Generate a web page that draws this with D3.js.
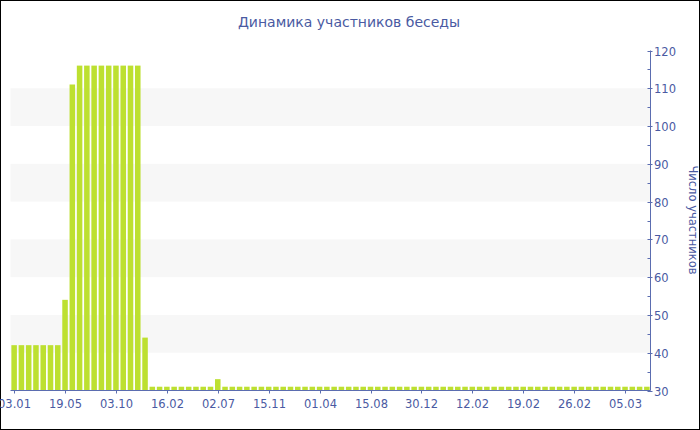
<!DOCTYPE html>
<html><head><meta charset="utf-8">
<script src="https://cdn.jsdelivr.net/npm/d3@7"></script>
<style>
html,body{margin:0;padding:0;background:#fff;}
svg{display:block;font-family:"DejaVu Sans",Verdana,sans-serif;}
</style></head>
<body>
<svg id="chart" width="700" height="430"></svg>
<script>
const title = "Динамика участников беседы";
const yTitle = "Число участников";
const categories = [
 "03.01","22.01","11.02","02.03","22.03","10.04","30.04",
 "19.05","07.06","27.06","16.07","05.08","24.08","13.09",
 "03.10","22.10","11.11","30.11","20.12","08.01","28.01",
 "16.02","07.03","27.03","15.04","05.05","24.05","13.06",
 "02.07","21.07","10.08","29.08","18.09","07.10","27.10",
 "15.11","04.12","24.12","12.01","01.02","20.02","11.03",
 "01.04","20.04","10.05","29.05","18.06","07.07","27.07",
 "15.08","03.09","23.09","12.10","01.11","20.11","10.12",
 "30.12","06.01","13.01","19.01","25.01","31.01","06.02",
 "12.02","13.02","14.02","15.02","16.02","17.02","18.02",
 "19.02","20.02","21.02","22.02","23.02","24.02","25.02",
 "26.02","27.02","28.02","01.03","02.03","03.03","04.03",
 "05.03","06.03","07.03","08.03"
];
const values = [
 42,42,42,42,42,42,42,
 54,111,116,116,116,116,116,
 116,116,116,116,44,31,31,
 31,31,31,31,31,31,31,
 33,31,31,31,31,31,31,
 31,31,31,31,31,31,31,
 31,31,31,31,31,31,31,
 31,31,31,31,31,31,31,
 31,31,31,31,31,31,31,
 31,31,31,31,31,31,31,
 31,31,31,31,31,31,31,
 31,31,31,31,31,31,31,
 31,31,31,31
];
const tickLabels = ["03.01","19.05","03.10","16.02","02.07","15.11","01.04","15.08","30.12","12.02","19.02","26.02","05.03"];
const tickIndices = [0,7,14,21,28,35,42,49,56,63,70,77,84];
const yTicks = [30,40,50,60,70,80,90,100,110,120];
const yMinorTicks = [35,45,55,65,75,85,95,105,115];
const bandRanges = [[40,50],[60,70],[80,90],[100,110]];

const textColor = "#4a5aa2", axisColor = "#5b6db0", barColor = "#bde030", bandColor = "#f7f7f7";

const svg = d3.select("#chart");
const pLeft = 10.5, pRight = 650.5, pTop = 50.5, pBottom = 390.5;

const x = d3.scaleBand().domain(d3.range(categories.length)).range([pLeft, pRight]).paddingInner(0.24).paddingOuter(0.12);
const y = d3.scaleLinear().domain([30,120]).range([pBottom, pTop]);

svg.append("rect").attr("x",0.5).attr("y",0.5).attr("width",699).attr("height",429).attr("fill","#fff").attr("stroke","#000");

svg.append("g").selectAll("rect").data(bandRanges).join("rect")
  .attr("x", pLeft).attr("width", pRight-pLeft)
  .attr("y", d=>y(d[1])).attr("height", d=>y(d[0])-y(d[1]))
  .attr("fill", bandColor);

svg.append("g").selectAll("rect").data(values).join("rect")
  .attr("x",(d,i)=>x(i)).attr("width",x.bandwidth())
  .attr("y",d=>y(d)).attr("height",d=>y(30)-y(d))
  .attr("fill",barColor);

// x axis
const xa = svg.append("g");
xa.append("line").attr("x1",pLeft).attr("x2",pRight).attr("y1",pBottom).attr("y2",pBottom).attr("stroke",axisColor);
const xt = xa.selectAll("g").data(tickIndices).join("g")
  .attr("transform",d=>`translate(${Math.round(x(d)+x.bandwidth()/2)+0.5},${pBottom})`);
xt.append("line").attr("y1",0).attr("y2",3).attr("stroke",axisColor);
xt.append("text").attr("y",17).attr("text-anchor","middle").attr("font-size",11.5).attr("fill",textColor)
  .text((d,i)=>tickLabels[i]);

// y axis (right)
const ya = svg.append("g");
ya.append("line").attr("x1",pRight).attr("x2",pRight).attr("y1",pTop).attr("y2",pBottom).attr("stroke",axisColor);
ya.selectAll("line.minor").data(yMinorTicks).join("line").attr("class","minor")
  .attr("x1",pRight-3).attr("x2",pRight).attr("y1",d=>Math.round(y(d))+0.5).attr("y2",d=>Math.round(y(d))+0.5).attr("stroke",axisColor);
const yt = ya.selectAll("g").data(yTicks).join("g").attr("transform",d=>`translate(${pRight},${Math.round(y(d))+0.5})`);
yt.append("line").attr("x1",-3).attr("x2",2).attr("stroke",axisColor);
yt.append("text").attr("x",3.5).attr("dy","0.35em").attr("font-size",11.5).attr("fill",textColor).text(d=>d);

svg.append("text").attr("transform","translate(689,220) rotate(90)").attr("text-anchor","middle")
  .attr("font-size",11.5).attr("fill",textColor).text(yTitle);

svg.append("text").attr("x",349).attr("y",27).attr("text-anchor","middle").attr("font-size",14).attr("fill",textColor).text(title);
</script>
</body></html>
